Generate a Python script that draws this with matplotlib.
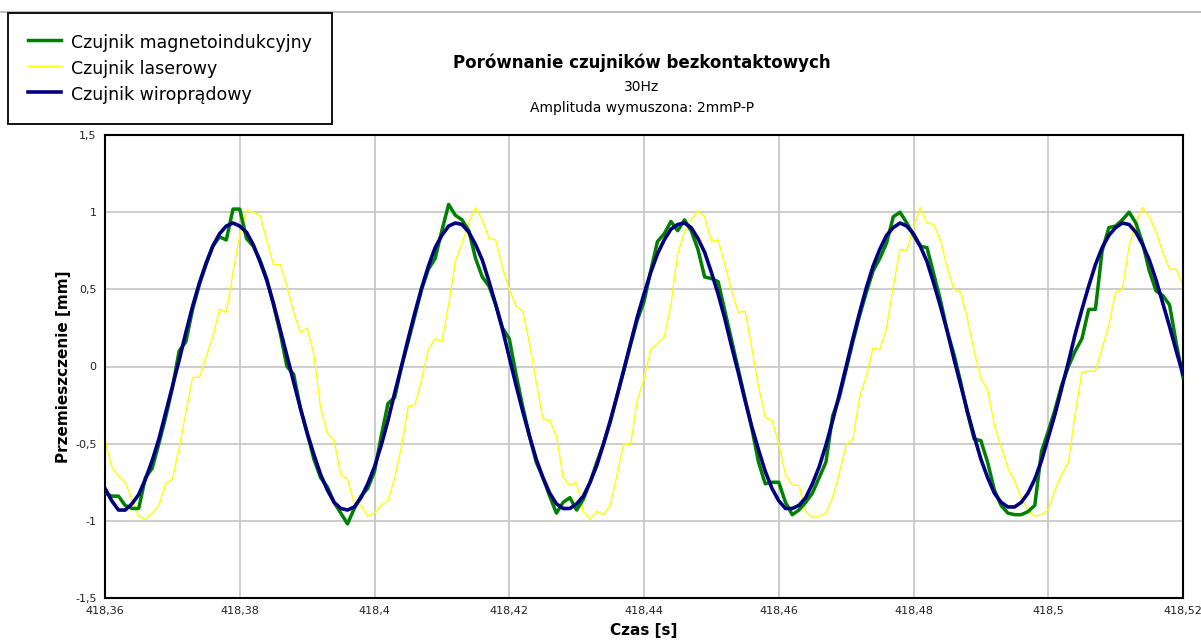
import numpy as np
import matplotlib
matplotlib.use("Agg")
import matplotlib.pyplot as plt
from matplotlib.lines import Line2D
from matplotlib.ticker import FuncFormatter, MultipleLocator

# ---- data ----
T0 = 418.36          # start time [s]
DT = 0.001           # sampling step [s]

magneto = [-0.82, -0.84, -0.84, -0.90, -0.92, -0.92, -0.72, -0.66, -0.50, -0.33,
           -0.14, 0.10, 0.16, 0.37, 0.53, 0.66, 0.78, 0.84, 0.82, 1.02,
           1.02, 0.83, 0.78, 0.69, 0.57, 0.40, 0.22, 0.00, -0.05, -0.27,
           -0.43, -0.60, -0.72, -0.78, -0.88, -0.95, -1.02, -0.92, -0.84, -0.79,
           -0.68, -0.45, -0.24, -0.20, 0.00, 0.16, 0.33, 0.50, 0.63, 0.70,
           0.88, 1.05, 0.98, 0.95, 0.88, 0.70, 0.58, 0.52, 0.40, 0.25,
           0.18, -0.05, -0.26, -0.45, -0.62, -0.72, -0.84, -0.95, -0.88, -0.85,
           -0.93, -0.86, -0.75, -0.62, -0.50, -0.36, -0.19, -0.03, 0.14, 0.30,
           0.42, 0.62, 0.81, 0.86, 0.94, 0.88, 0.95, 0.88, 0.76, 0.58,
           0.57, 0.55, 0.36, 0.17, -0.02, -0.21, -0.40, -0.62, -0.76, -0.75,
           -0.75, -0.88, -0.96, -0.93, -0.88, -0.82, -0.72, -0.62, -0.32, -0.20,
           -0.02, 0.16, 0.33, 0.48, 0.62, 0.70, 0.80, 0.97, 1.00, 0.93,
           0.85, 0.78, 0.77, 0.60, 0.43, 0.23, 0.08, -0.10, -0.30, -0.47,
           -0.48, -0.62, -0.80, -0.90, -0.95, -0.96, -0.96, -0.94, -0.90, -0.55,
           -0.42, -0.28, -0.12, 0.00, 0.10, 0.18, 0.37, 0.37, 0.75, 0.90,
           0.91, 0.95, 1.00, 0.93, 0.80, 0.62, 0.49, 0.46, 0.40, 0.15,
           -0.07]

laser = [-0.48, -0.65, -0.71, -0.75, -0.86, -0.97, -0.99, -0.95, -0.90, -0.76,
         -0.73, -0.53, -0.30, -0.07, -0.07, 0.06, 0.19, 0.37, 0.35, 0.61,
         0.85, 1.01, 1.00, 0.98, 0.82, 0.66, 0.66, 0.52, 0.35, 0.22,
         0.25, 0.08, -0.27, -0.43, -0.48, -0.70, -0.73, -0.89, -0.90, -0.97,
         -0.95, -0.90, -0.87, -0.72, -0.52, -0.26, -0.25, -0.08, 0.11, 0.18,
         0.16, 0.40, 0.68, 0.80, 0.93, 1.03, 0.95, 0.83, 0.82, 0.64,
         0.50, 0.39, 0.36, 0.15, -0.10, -0.34, -0.35, -0.45, -0.72, -0.77,
         -0.75, -0.94, -0.99, -0.94, -0.96, -0.90, -0.70, -0.50, -0.51, -0.22,
         -0.08, 0.11, 0.15, 0.19, 0.40, 0.73, 0.87, 0.95, 1.01, 0.97,
         0.81, 0.82, 0.66, 0.49, 0.35, 0.36, 0.12, -0.13, -0.33, -0.35,
         -0.50, -0.70, -0.77, -0.77, -0.94, -0.98, -0.97, -0.95, -0.85, -0.69,
         -0.51, -0.47, -0.20, -0.06, 0.12, 0.11, 0.25, 0.52, 0.76, 0.75,
         0.90, 1.03, 0.93, 0.92, 0.82, 0.64, 0.50, 0.48, 0.31, 0.10,
         -0.08, -0.15, -0.38, -0.52, -0.66, -0.74, -0.85, -0.93, -0.97, -0.96,
         -0.93, -0.80, -0.70, -0.62, -0.30, -0.04, -0.03, -0.03, 0.12, 0.27,
         0.48, 0.50, 0.78, 0.93, 1.03, 0.97, 0.87, 0.74, 0.63, 0.63,
         0.52]

eddy = [-0.79, -0.87, -0.93, -0.93, -0.89, -0.83, -0.73, -0.61, -0.47, -0.30,
        -0.13, 0.04, 0.22, 0.39, 0.54, 0.67, 0.78, 0.86, 0.91, 0.93,
        0.91, 0.87, 0.79, 0.68, 0.56, 0.41, 0.24, 0.07, -0.10, -0.27,
        -0.43, -0.57, -0.70, -0.80, -0.88, -0.92, -0.93, -0.91, -0.85, -0.76,
        -0.65, -0.51, -0.35, -0.17, 0.00, 0.18, 0.35, 0.51, 0.65, 0.77,
        0.85, 0.91, 0.93, 0.92, 0.87, 0.79, 0.69, 0.55, 0.40, 0.24,
        0.06, -0.12, -0.29, -0.45, -0.60, -0.72, -0.82, -0.89, -0.92, -0.92,
        -0.89, -0.84, -0.75, -0.64, -0.50, -0.35, -0.19, -0.02, 0.15, 0.32,
        0.47, 0.61, 0.73, 0.82, 0.89, 0.92, 0.93, 0.90, 0.83, 0.74,
        0.61, 0.47, 0.31, 0.13, -0.04, -0.22, -0.39, -0.54, -0.68, -0.79,
        -0.87, -0.92, -0.92, -0.90, -0.85, -0.76, -0.65, -0.51, -0.35, -0.18,
        0.00, 0.18, 0.35, 0.51, 0.65, 0.76, 0.85, 0.90, 0.93, 0.91,
        0.86, 0.78, 0.68, 0.54, 0.39, 0.23, 0.05, -0.12, -0.29, -0.45,
        -0.60, -0.72, -0.82, -0.88, -0.91, -0.91, -0.88, -0.82, -0.73, -0.61,
        -0.46, -0.31, -0.14, 0.03, 0.21, 0.37, 0.52, 0.66, 0.77, 0.85,
        0.90, 0.93, 0.92, 0.87, 0.79, 0.69, 0.56, 0.41, 0.26, 0.10,
        -0.05]

series_labels = ["Czujnik magnetoindukcyjny", "Czujnik laserowy", "Czujnik wiroprądowy"]
title = "Porównanie czujników bezkontaktowych"
subtitle1 = "30Hz"
subtitle2 = "Amplituda wymuszona: 2mmP-P"
xlabel = "Czas [s]"
ylabel = "Przemieszczenie [mm]"

t = T0 + np.arange(len(eddy)) * DT

# ---- figure ----
W, H = 1201, 641
fig = plt.figure(figsize=(W / 100, H / 100), dpi=100)
fig.patch.set_facecolor("white")

# thin gray frame line at top
fig.add_artist(Line2D([0, 1], [1 - 12 / H, 1 - 12 / H], transform=fig.transFigure,
                      color="#b4b4b4", lw=1.2, zorder=0))

left, right, top, bottom = 105, 1183, 135, 598
ax = fig.add_axes([left / W, 1 - bottom / H, (right - left) / W, (bottom - top) / H])

l1, = ax.plot(t, magneto, color="#008000", lw=2.5, zorder=3)
l2, = ax.plot(t, laser, color="#ffff00", lw=1.0, zorder=2)
l3, = ax.plot(t, eddy, color="#000080", lw=2.6, zorder=4)

ax.set_xlim(418.36, 418.52)
ax.set_ylim(-1.5, 1.5)
ax.xaxis.set_major_locator(MultipleLocator(0.02))
ax.yaxis.set_major_locator(MultipleLocator(0.5))

def fmt(v, pos):
    s = ("%.2f" % v).rstrip("0").rstrip(".")
    if s == "-0":
        s = "0"
    return s.replace(".", ",")

ax.xaxis.set_major_formatter(FuncFormatter(fmt))
ax.yaxis.set_major_formatter(FuncFormatter(fmt))
ax.grid(True, color="#c8c8c8", lw=1.3)
ax.set_axisbelow(True)
ax.tick_params(length=0, labelsize=8, colors="#222222", pad=6)
for sp in ax.spines.values():
    sp.set_color("black")
    sp.set_linewidth(1.5)

ax.set_xlabel(xlabel, fontsize=11, fontweight="bold", labelpad=5)
ax.set_ylabel(ylabel, fontsize=11, fontweight="bold", labelpad=3)

fig.text(642 / W, 1 - 63 / H, title, ha="center", va="center", fontsize=12, fontweight="bold")
fig.text(642 / W, 1 - 87 / H, subtitle1, ha="center", va="center", fontsize=10)
fig.text(642 / W, 1 - 108 / H, subtitle2, ha="center", va="center", fontsize=10)

leg = fig.legend([l1, l2, l3], series_labels, loc="upper left",
                 bbox_to_anchor=(8 / W, 1 - 13 / H), fontsize=12.5,
                 frameon=True, fancybox=False, framealpha=1, edgecolor="black",
                 borderpad=1.15, labelspacing=0.42, handlelength=1.9, handleheight=1.2,
                 handletextpad=0.6, borderaxespad=0)
leg.get_frame().set_linewidth(1.3)
leg.set_zorder(10)

fig.savefig("out.png", dpi=100, facecolor="white")
